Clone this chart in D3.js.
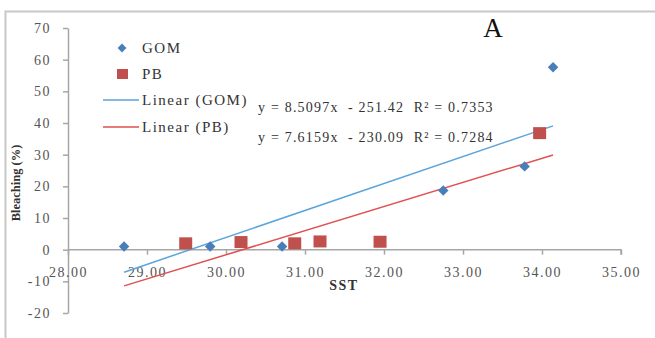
<!DOCTYPE html>
<html>
<head>
<meta charset="utf-8">
<script src="https://cdn.jsdelivr.net/npm/d3@7"></script>
<style>
  body { margin: 0; background: #fff; }
  text { font-family: "Liberation Serif", "DejaVu Serif", serif; }
</style>
</head>
<body>
<div id="chart"></div>
<script>
// values
const gomSST = [28.71, 29.80, 30.71, 32.75, 33.78, 34.14];
const gomBleach = [1, 1, 1, 18.7, 26.3, 57.6];
const pbSST = [29.49, 30.19, 30.87, 31.19, 31.95, 33.97];
const pbBleach = [2, 2.4, 2, 2.6, 2.5, 36.8];
const fitGOM = {slope: 8.5097, icpt: -251.42, r2: "0.7353"};
const fitPB = {slope: 7.6159, icpt: -230.09, r2: "0.7284"};
const xTicks = [28, 29, 30, 31, 32, 33, 34, 35];
const yTicks = [-20, -10, 0, 10, 20, 30, 40, 50, 60, 70];

const width = 655, height = 338;
const blue = "#4a7ebb", red = "#c0504d";
const blueLine = "#5aa5dc", redLine = "#e0504f";

const svg = d3.select("#chart").append("svg")
    .attr("width", width).attr("height", height);

// outer frame (only top and left visible)
svg.append("path")
    .attr("d", `M5.5,${height}V11.5H${width}`)
    .attr("fill", "none").attr("stroke", "#c8c8c8").attr("stroke-width", 2);

const x = d3.scaleLinear([28, 35], [68, 621]);
const y = d3.scaleLinear([-20, 70], [313, 28]);

const tickText = g => g.selectAll("text")
    .attr("font-family", "Liberation Serif, serif")
    .attr("font-size", 14).attr("letter-spacing", 1.5).attr("fill", "#555");

// y axis
svg.append("g")
    .attr("transform", `translate(${x(28)},0)`)
    .call(d3.axisLeft(y).tickValues(yTicks).tickFormat(d => String(d))
        .tickSize(5).tickSizeOuter(0).tickPadding(12))
    .call(g => g.selectAll("path,line").attr("stroke", "#a6a6a6").attr("stroke-width", 1.5))
    .call(tickText);

// x axis at y=0
svg.append("g")
    .attr("transform", `translate(0,${y(0)})`)
    .call(d3.axisBottom(x).tickValues(xTicks).tickFormat(d3.format(".2f"))
        .tickSize(5).tickSizeOuter(0).tickPadding(12))
    .call(g => g.selectAll("path,line").attr("stroke", "#a6a6a6").attr("stroke-width", 1.5))
    .call(g => g.select(".domain").attr("d", `M${x(28)},0H${x(35)}V5`))
    .call(tickText);

// axis titles
svg.append("text")
    .attr("transform", `translate(20,183) rotate(-90)`)
    .attr("text-anchor", "middle")
    .attr("font-size", 12.5).attr("font-weight", "bold").attr("fill", "#333")
    .text("Bleaching (%)");
svg.append("text")
    .attr("x", 344).attr("y", 290)
    .attr("text-anchor", "middle")
    .attr("font-size", 14).attr("letter-spacing", 1.5)
    .attr("font-weight", "bold").attr("fill", "#333")
    .text("SST");

svg.append("text")
    .attr("x", 493).attr("y", 37)
    .attr("text-anchor", "middle")
    .attr("font-size", 27).attr("fill", "#111")
    .text("A");

// trendlines over the full x range of the data
const xr = d3.extent(gomSST.concat(pbSST));
const line = d3.line().x(d => x(d[0])).y(d => y(d[1]));
[[fitGOM, blueLine], [fitPB, redLine]].forEach(([f, c]) => {
  svg.append("path")
      .datum(xr.map(v => [v, f.slope * v + f.icpt]))
      .attr("d", line)
      .attr("fill", "none").attr("stroke", c).attr("stroke-width", 1.5);
});

// points
const diamond = d3.symbol().type(d3.symbolDiamond2).size(70);
svg.append("g").selectAll("path")
    .data(d3.zip(gomSST, gomBleach))
    .join("path")
    .attr("d", diamond)
    .attr("transform", d => `translate(${x(d[0])},${y(d[1])})`)
    .attr("fill", blue);

svg.append("g").selectAll("rect")
    .data(d3.zip(pbSST, pbBleach))
    .join("rect")
    .attr("x", d => x(d[0]) - 6.5).attr("y", d => y(d[1]) - 6)
    .attr("width", 13).attr("height", 12)
    .attr("fill", red);

// equations
const fmtEq = f => `y = ${f.slope.toFixed(4)}x  - ${Math.abs(f.icpt).toFixed(2)}  R² = ${f.r2}`;
svg.append("g").selectAll("text")
    .data([fitGOM, fitPB])
    .join("text")
    .attr("x", 258).attr("y", (d, i) => 112 + i * 30)
    .attr("font-size", 14).attr("letter-spacing", 1.2).attr("fill", "#333")
    .style("white-space", "pre")
    .text(fmtEq);

// legend
const lg = svg.append("g").attr("font-size", 15).attr("letter-spacing", 1.5).attr("fill", "#333");
lg.append("path").attr("d", d3.symbol().type(d3.symbolDiamond2).size(50))
    .attr("transform", "translate(122,48)").attr("fill", blue);
lg.append("rect").attr("x", 117).attr("y", 69).attr("width", 11).attr("height", 10).attr("fill", red);
lg.append("line").attr("x1", 103).attr("x2", 139).attr("y1", 100).attr("y2", 100)
    .attr("stroke", blueLine).attr("stroke-width", 1.5);
lg.append("line").attr("x1", 103).attr("x2", 139).attr("y1", 127).attr("y2", 127)
    .attr("stroke", redLine).attr("stroke-width", 1.5);
const legendLabels = ["GOM", "PB", "Linear (GOM)", "Linear (PB)"];
lg.selectAll("text.lab")
    .data(legendLabels)
    .join("text")
    .attr("class", "lab")
    .attr("x", 142).attr("y", (d, i) => [53, 79, 105, 132][i])
    .text(d => d);
</script>
</body>
</html>
